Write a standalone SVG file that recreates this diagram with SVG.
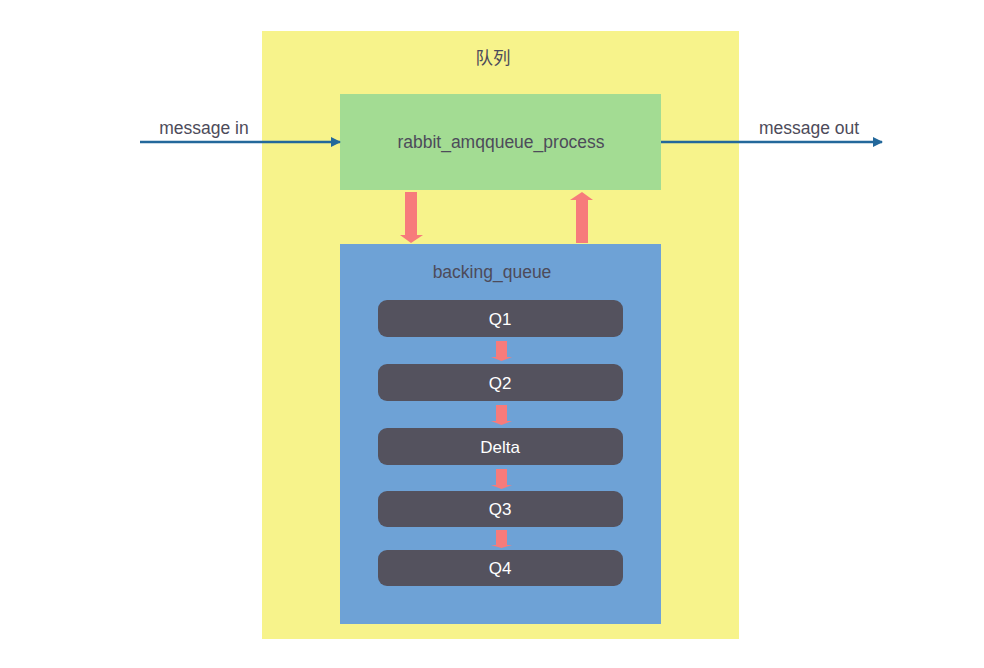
<svg xmlns="http://www.w3.org/2000/svg" width="984" height="668" viewBox="0 0 984 668">
<defs>
<style>
.t{font-family:"Liberation Sans",Arial,"Noto Sans CJK SC",sans-serif;font-size:17.5px;fill:#4d4b5a;text-anchor:middle}
.q{fill:#54525e}
.ql{font-family:"Liberation Sans",Arial,sans-serif;font-size:17px;fill:#ffffff;text-anchor:middle}
.pk{fill:#f77b7b}
.bl{stroke:#23689b;stroke-width:2.5;fill:none}
</style>
<marker id="ah" viewBox="0 0 10 10" refX="9" refY="5" markerWidth="4" markerHeight="4" orient="auto" markerUnits="strokeWidth">
<path d="M0,0 L10,5 L0,10 Z" fill="#23689b"/>
</marker>
</defs>
<rect width="984" height="668" fill="#ffffff"/>
<g id="queue">
<rect x="262" y="31" width="477" height="608" fill="#f7f38b"/>
<text class="t" x="493" y="64">队列</text>
</g>
<g id="process">
<rect x="340" y="94" width="321" height="96" fill="#a3dc93"/>
<text class="t" x="501" y="148">rabbit_amqqueue_process</text>
</g>
<g id="backing_queue">
<rect x="340" y="244" width="321" height="380" fill="#6ea2d6"/>
<text class="t" x="492" y="278">backing_queue</text>
</g>
<g id="connectors">
<line class="bl" x1="140" y1="142" x2="340" y2="142" marker-end="url(#ah)"/>
<line class="bl" x1="661" y1="142" x2="882" y2="142" marker-end="url(#ah)"/>
<text class="t" x="204" y="134">message in</text>
<text class="t" x="809" y="134">message out</text>
<path class="pk" d="M405,192 H417 V235 H423 L411,243 L400,235 H405 Z"/>
<path class="pk" d="M576,243 H588 V200 H593 L582,192 L570,200 H576 Z"/>
<path class="pk" d="M496,341 H507 V357 H512 L501.5,361 L491,357 H496 Z"/>
<path class="pk" d="M496,405 H507 V421 H512 L501.5,425 L491,421 H496 Z"/>
<path class="pk" d="M496,469 H507 V485 H512 L501.5,489 L491,485 H496 Z"/>
<path class="pk" d="M496,530 H507 V545 H512 L501.5,548 L491,545 H496 Z"/>
</g>
<g id="q1"><rect class="q" x="378" y="300" width="245" height="37" rx="9"/><text class="ql" x="500" y="325">Q1</text></g>
<g id="q2"><rect class="q" x="378" y="364" width="245" height="37" rx="9"/><text class="ql" x="500" y="389">Q2</text></g>
<g id="delta"><rect class="q" x="378" y="428" width="245" height="37" rx="9"/><text class="ql" x="500" y="453">Delta</text></g>
<g id="q3"><rect class="q" x="378" y="491" width="245" height="36" rx="9"/><text class="ql" x="500" y="515">Q3</text></g>
<g id="q4"><rect class="q" x="378" y="550" width="245" height="36" rx="9"/><text class="ql" x="500" y="574">Q4</text></g>
</svg>
